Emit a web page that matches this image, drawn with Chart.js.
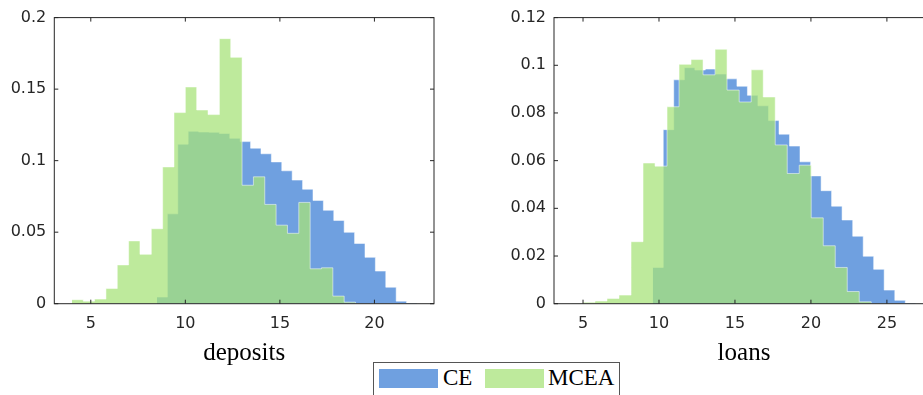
<!DOCTYPE html>
<html>
<head>
<meta charset="utf-8">
<script src="https://cdn.jsdelivr.net/npm/chart.js@4/dist/chart.umd.min.js"></script>
<style>
  html, body { margin: 0; padding: 0; width: 923px; height: 395px; overflow: hidden; background: #fff; }
  body { position: relative; }
  canvas { position: absolute; top: 0; }
  #left { left: 0; }
  #right { left: 480px; }
  #legend {
    position: absolute; left: 373px; top: 362px; width: 247px; height: 44px;
    border: 1px solid #555; box-sizing: border-box; background: #fff;
    font-family: "Liberation Serif", serif; font-size: 23px; line-height: 23px; color: #000;
  }
  #legend span { position: absolute; }
  .sw { width: 59px; height: 19px; top: 6px; }
  .lab { top: 3px; white-space: nowrap; }
</style>
</head>
<body>
<canvas id="left" width="480" height="395"></canvas>
<canvas id="right" width="480" height="395"></canvas>
<div id="legend">
  <span class="sw" style="left:5px; background:#6fa0e0"></span>
  <span class="lab" style="left:69px">CE</span>
  <span class="sw" style="left:111px; background:#beea9c"></span>
  <span class="lab" style="left:174px">MCEA</span>
</div>
<script>
// deposits: bin edges and heights (CE = blue, MCEA = green)
const depEdgesCE = [8.50, 9.05, 9.60, 10.15, 10.70, 11.25, 11.80, 12.35, 12.90, 13.45, 14.00, 14.55, 15.10,
    15.65, 16.20, 16.75, 17.30, 17.85, 18.40, 18.95, 19.50, 20.05, 20.60, 21.15, 21.70, 22.25];
const depCE = [0.0046, 0.0628, 0.1115, 0.1205, 0.1200, 0.1198, 0.1190, 0.1156, 0.1133, 0.1087, 0.1048, 0.0991,
    0.0929, 0.0864, 0.0800, 0.0722, 0.0653, 0.0582, 0.0499, 0.0421, 0.0324, 0.0228, 0.0115, 0.0018, 0.0005];
const depEdgesMCEA = [4.0, 4.6, 5.2, 5.8, 6.4, 7.0, 7.6, 8.2, 8.8, 9.4, 10.0, 10.6, 11.2, 11.8, 12.4, 13.0,
    13.6, 14.2, 14.8, 15.4, 16.0, 16.6, 17.2, 17.8, 18.4, 19.0];
const depMCEA = [0.0028, 0.0018, 0.0032, 0.0106, 0.0271, 0.0439, 0.0345, 0.0524, 0.0956, 0.1336, 0.1515, 0.1354,
    0.1322, 0.1853, 0.1722, 0.0828, 0.0887, 0.0694, 0.0549, 0.0492, 0.0708, 0.0244, 0.0251, 0.0053, 0.0011];

// loans
const loanEdgesCE = [9.59, 10.28, 10.97, 11.67, 12.36, 13.05, 13.74, 14.44, 15.13, 15.82, 16.51, 17.21, 17.90,
    18.59, 19.28, 19.98, 20.67, 21.36, 22.05, 22.75, 23.44, 24.13, 24.82, 25.52, 26.21, 26.90];
const loanCE = [0.0152, 0.0730, 0.0939, 0.0990, 0.0980, 0.0984, 0.0963, 0.0943, 0.0912, 0.0874, 0.0830, 0.0768,
    0.0711, 0.0661, 0.0595, 0.0536, 0.0474, 0.0409, 0.0351, 0.0283, 0.0199, 0.0144, 0.0057, 0.0014, 0.0003];
const loanEdgesMCEA = [4.21, 5.00, 5.79, 6.58, 7.37, 8.16, 8.95, 9.74, 10.53, 11.32, 12.11, 12.90, 13.69, 14.48,
    15.28, 16.07, 16.86, 17.65, 18.44, 19.23, 20.02, 20.81, 21.60, 22.39, 23.18, 23.97];
const loanMCEA = [0.0001, 0.0006, 0.0011, 0.0022, 0.0036, 0.0260, 0.0590, 0.0577, 0.0826, 0.1004, 0.1024, 0.0960,
    0.1067, 0.0896, 0.0846, 0.0981, 0.0867, 0.0666, 0.0546, 0.0581, 0.0360, 0.0243, 0.0152, 0.0051, 0.0008];

// ticks
const depXTicks = [5, 10, 15, 20];
const depYTicks = [0, 0.05, 0.1, 0.15, 0.2];
const depYLabels = ["0", "0.05", "0.1", "0.15", "0.2"];
const loanXTicks = [5, 10, 15, 20, 25];
const loanYTicks = [0, 0.02, 0.04, 0.06, 0.08, 0.1, 0.12];
const loanYLabels = ["0", "0.02", "0.04", "0.06", "0.08", "0.1", "0.12"];

const BLUE = "rgba(63, 128, 214, 0.75)";
const GREEN = "rgba(168, 227, 123, 0.75)";
const EDGE = "rgba(255, 255, 255, 0.5)";
const AXIS = "#262626";

// one point per bin edge, last edge drops back to zero
function histPoints(edges, heights) {
    return edges.map((x, i) => ({ x: x, y: i < heights.length ? heights[i] : 0 }));
}

// MATLAB style box with inward ticks on all four sides
const boxTicks = {
    id: "boxTicks",
    afterDraw(chart) {
        const { ctx, chartArea: a, scales: { x, y } } = chart;
        ctx.save();
        ctx.strokeStyle = AXIS;
        ctx.lineWidth = 1;
        ctx.strokeRect(a.left, a.top, a.right - a.left, a.bottom - a.top);
        ctx.beginPath();
        x.ticks.forEach((t) => {
            const px = x.getPixelForValue(t.value);
            ctx.moveTo(px, a.bottom); ctx.lineTo(px, a.bottom - 4);
            ctx.moveTo(px, a.top); ctx.lineTo(px, a.top + 4);
        });
        y.ticks.forEach((t) => {
            const py = y.getPixelForValue(t.value);
            ctx.moveTo(a.left, py); ctx.lineTo(a.left + 4, py);
            ctx.moveTo(a.right, py); ctx.lineTo(a.right - 4, py);
        });
        ctx.stroke();
        ctx.restore();
    }
};

function histChart(id, cfg) {
    const tickFont = { family: "'DejaVu Sans', sans-serif", size: 16 };
    return new Chart(document.getElementById(id), {
        type: "line",
        data: {
            datasets: [{
                label: "MCEA",
                data: histPoints(cfg.mceaEdges, cfg.mcea),
                stepped: "before",
                fill: "origin",
                backgroundColor: GREEN,
                borderColor: EDGE,
                borderWidth: 1,
                pointRadius: 0,
                order: 0
            }, {
                label: "CE",
                data: histPoints(cfg.ceEdges, cfg.ce),
                stepped: "before",
                fill: "origin",
                backgroundColor: BLUE,
                borderColor: EDGE,
                borderWidth: 1,
                pointRadius: 0,
                order: 1
            }]
        },
        options: {
            responsive: false,
            animation: false,
            events: [],
            layout: { padding: cfg.padding },
            plugins: { legend: { display: false }, tooltip: { enabled: false } },
            scales: {
                x: {
                    type: "linear",
                    min: cfg.xMin,
                    max: cfg.xMax,
                    afterBuildTicks: (s) => { s.ticks = cfg.xTicks.map((v) => ({ value: v })); },
                    afterFit: (s) => { s.height = 91.3; },
                    grid: { display: false, drawTicks: false },
                    border: { display: false },
                    ticks: { font: tickFont, color: AXIS, padding: 11, maxRotation: 0,
                        callback: (v) => String(v) },
                    title: { display: true, text: cfg.xTitle, color: "#000",
                        font: { family: "'Liberation Serif', serif", size: 25 },
                        padding: { top: 0, bottom: 27 } }
                },
                y: {
                    type: "linear",
                    min: 0,
                    max: cfg.yMax,
                    afterBuildTicks: (s) => { s.ticks = cfg.yTicks.map((v) => ({ value: v })); },
                    afterFit: (s) => { s.width = cfg.yWidth; },
                    grid: { display: false, drawTicks: false },
                    border: { display: false },
                    ticks: { font: tickFont, color: AXIS, padding: 8,
                        callback: (v, i) => cfg.yLabels[i] }
                }
            }
        },
        plugins: [boxTicks]
    });
}

histChart("left", {
    ceEdges: depEdgesCE, ce: depCE, mceaEdges: depEdgesMCEA, mcea: depMCEA,
    xMin: 3.07, xMax: 23.15, xTicks: depXTicks, xTitle: "deposits",
    yMax: 0.2, yTicks: depYTicks, yLabels: depYLabels, yWidth: 54.3,
    padding: { left: 0, right: 46, top: 13, bottom: 0 }
});

histChart("right", {
    ceEdges: loanEdgesCE, ce: loanCE, mceaEdges: loanEdgesMCEA, mcea: loanMCEA,
    xMin: 3.09, xMax: 28.1, xTicks: loanXTicks, xTitle: "loans",
    yMax: 0.12, yTicks: loanYTicks, yLabels: loanYLabels, yWidth: 74,
    padding: { left: 0, right: 26, top: 13, bottom: 0 }
});
</script>
</body>
</html>
